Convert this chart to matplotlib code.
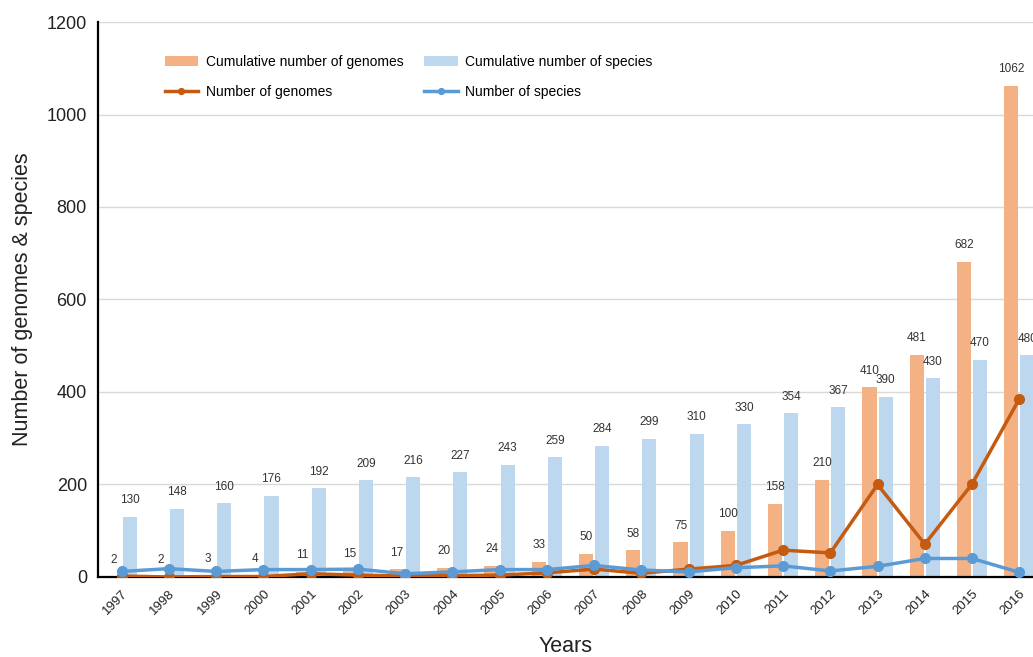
import numpy as np
import matplotlib
matplotlib.use("Agg")
import matplotlib.pyplot as plt

years = [str(y) for y in range(1997, 2017)]
cum_genomes = [2, 2, 3, 4, 11, 15, 17, 20, 24, 33, 50, 58, 75, 100, 158, 210, 410, 481, 682, 1062]
cum_species = [130, 148, 160, 176, 192, 209, 216, 227, 243, 259, 284, 299, 310, 330, 354, 367, 390, 430, 470, 480]
num_genomes = [2, 0, 1, 1, 7, 4, 2, 3, 4, 9, 17, 8, 17, 25, 58, 52, 200, 71, 201, 385]
num_species = [12, 18, 12, 16, 16, 17, 7, 11, 16, 16, 25, 15, 11, 20, 24, 13, 23, 40, 40, 10]

ORANGE_BAR = '#F4B183'
BLUE_BAR = '#BDD7EE'
ORANGE_LINE = '#C55A11'
BLUE_LINE = '#5B9BD5'

plt.rcParams['font.family'] = ['Liberation Sans', 'DejaVu Sans']

fig = plt.figure(figsize=(10.33, 6.57), dpi=100)
ax = fig.add_axes([0.0949, 0.1218, 0.9051, 0.8447])

x = np.arange(len(years))
w = 0.3
off = 0.17

ax.bar(x - off, cum_genomes, w, color=ORANGE_BAR, label='Cumulative number of genomes', zorder=2)
ax.bar(x + off, cum_species, w, color=BLUE_BAR, label='Cumulative number of species', zorder=2)
ax.plot(x, num_genomes, '-o', color=ORANGE_LINE, lw=2.5, ms=7, label='Number of genomes', zorder=3)
ax.plot(x, num_species, '-o', color=BLUE_LINE, lw=2.5, ms=7, label='Number of species', zorder=4)

# value labels above the bars
lab_font = ['Liberation Sans Narrow', 'Liberation Sans', 'DejaVu Sans']
for i in range(len(years)):
    ax.annotate(str(cum_genomes[i]), (x[i] - off, cum_genomes[i]), xytext=(0, 7.5),
                textcoords='offset points', ha='center', va='bottom', fontsize=8.5,
                family=lab_font, color='#333333', zorder=5)
    ax.annotate(str(cum_species[i]), (x[i] + off, cum_species[i]), xytext=(0, 7.5),
                textcoords='offset points', ha='center', va='bottom', fontsize=8.5,
                family=lab_font, color='#333333', zorder=5)

ax.set_xlim(-0.5, 19.29)
ax.set_ylim(0, 1200)
ax.set_yticks(range(0, 1201, 200))
ax.set_xticks(x)
ax.set_xticklabels(years, rotation=45, ha='right', rotation_mode='anchor', fontsize=9.5)
ax.tick_params(axis='y', labelsize=13, length=0, pad=8, labelcolor='#222222')
ax.tick_params(axis='x', length=0, pad=7.5, labelcolor='#222222')
ax.yaxis.grid(True, color='#d9d9d9', lw=1, zorder=0)
ax.set_axisbelow(True)
for s in ['top', 'right']:
    ax.spines[s].set_visible(False)
ax.spines['left'].set_linewidth(1.6)
ax.spines['bottom'].set_linewidth(1.6)

ax.set_xlabel('Years', fontsize=15.5, color='#222222')
ax.xaxis.set_label_coords(0.5, -0.106)
ax.set_ylabel('Number of genomes & species', fontsize=15.5, labelpad=10, color='#222222')

h, l = ax.get_legend_handles_labels()
order = [2, 0, 3, 1]
h = [h[i] for i in order]
l = [l[i] for i in order]
ax.legend(h, l, ncol=2, frameon=False, loc='upper left', bbox_to_anchor=(0.058, 0.963),
          fontsize=10, handlelength=2.4, columnspacing=1.5, handletextpad=0.55,
          labelspacing=1.15, markerscale=0.6)

fig.savefig('out.png', dpi=100)
